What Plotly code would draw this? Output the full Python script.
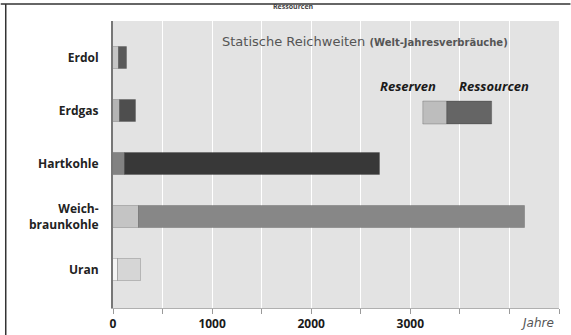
import plotly.graph_objects as go

# Static reach of energy resources (years of world annual consumption)
categories = ["Erdol", "Erdgas", "Hartkohle", "Weich-<br>braunkohle", "Uran"]
reserven = [65, 70, 126, 267, 55]            # years covered by reserves
gesamt = [146, 227, 2694, 4154, 287]         # years covered by reserves + resources
ressourcen = [g - r for g, r in zip(gesamt, reserven)]

reserve_colors = ["#c6c6c6", "#b4b4b4", "#828282", "#c4c4c4", "#f4f4f4"]
resource_colors = ["#595959", "#4e4e4e", "#383838", "#878787", "#d6d6d6"]

x_ticks = [0, 500, 1000, 1500, 2000, 2500, 3000, 3500, 4000, 4500]
x_ticktext = ["0", "", "1000", "", "2000", "", "3000", "", "", ""]

fig = go.Figure()
fig.add_trace(go.Bar(
    y=list(range(len(categories))), x=reserven, orientation="h",
    marker=dict(color=reserve_colors, line=dict(color="rgba(0,0,0,0.18)", width=1)),
    width=0.42, name="Reserven", showlegend=False,
))
fig.add_trace(go.Bar(
    y=list(range(len(categories))), x=ressourcen, base=reserven, orientation="h",
    marker=dict(color=resource_colors, line=dict(color="rgba(0,0,0,0.18)", width=1)),
    width=0.42, name="Ressourcen", showlegend=False,
))

L, R, T, B = 112.5, 11.5, 21, 27
W, H = 571, 335
pw, ph = W - L - R, H - T - B

def px(x):
    return (x - L) / pw

def py(y):
    return 1 - (y - T) / ph

shapes = [
    # outer frame: top and left edges
    dict(type="line", xref="paper", yref="paper", x0=px(0), x1=px(W), y0=py(4), y1=py(4),
         line=dict(color="#333333", width=1.5)),
    dict(type="line", xref="paper", yref="paper", x0=px(5), x1=px(5), y0=py(4), y1=py(H),
         line=dict(color="#333333", width=1.5)),
    # legend swatch
    dict(type="rect", xref="paper", yref="paper", x0=px(423), x1=px(447), y0=py(124), y1=py(101),
         fillcolor="#bdbdbd", line=dict(color="rgba(0,0,0,0.2)", width=1)),
    dict(type="rect", xref="paper", yref="paper", x0=px(447), x1=px(492), y0=py(124), y1=py(101),
         fillcolor="#656565", line=dict(color="rgba(0,0,0,0.2)", width=1)),
]

font = "Open Sans"
wide = "DejaVu Sans"
annotations = [
    dict(xref="paper", yref="paper", x=px(220), y=py(41), xanchor="left", yanchor="middle",
         text="Statische Reichweiten <span style='font-size:10px'><b>(Welt-Jahresverbräuche)</b></span>",
         showarrow=False, font=dict(family=wide, size=13, color="#555555")),
    dict(xref="paper", yref="paper", x=px(408), y=py(86), xanchor="center", yanchor="middle",
         text="<b><i>Reserven</i></b>", showarrow=False, font=dict(family=font, size=13, color="#1a1a1a")),
    dict(xref="paper", yref="paper", x=px(494), y=py(86), xanchor="center", yanchor="middle",
         text="<b><i>Ressourcen</i></b>", showarrow=False, font=dict(family=font, size=13, color="#1a1a1a")),
    dict(xref="paper", yref="paper", x=px(538), y=py(323), xanchor="center", yanchor="middle",
         text="<i>Jahre</i>", showarrow=False, font=dict(family=wide, size=12, color="#555555")),
    dict(xref="paper", yref="paper", x=px(293), y=py(0), xanchor="center", yanchor="top",
         text="<b>Ressourcen</b>", showarrow=False, font=dict(family=font, size=7, color="#444444")),
]

fig.update_layout(
    width=W, height=H, margin=dict(l=L, r=R, t=T, b=B),
    paper_bgcolor="white", plot_bgcolor="#e3e3e3",
    barmode="overlay", bargap=0,
    shapes=shapes, annotations=annotations,
    font=dict(family=font, color="#222222"),
)
fig.update_xaxes(
    range=[0, 4500], tickvals=x_ticks, ticktext=x_ticktext,
    showgrid=True, gridcolor="white", gridwidth=1,
    ticks="outside", ticklen=5, tickcolor="#9a9a9a",
    showline=True, linecolor="#b0b0b0", linewidth=1,
    tickfont=dict(family=font, size=12, color="#1a1a1a", weight="bold"),
    zeroline=False, fixedrange=True, automargin=False,
)
fig.update_yaxes(
    range=[4.72, -0.70], tickvals=list(range(len(categories))), ticktext=categories,
    showgrid=False, zeroline=False, showline=True, linecolor="#777777", linewidth=2,
    ticks="", ticklabelstandoff=10,
    tickfont=dict(family=font, size=12, color="#222222", weight="bold"),
    fixedrange=True, automargin=False,
)

fig.write_html("out.html", config={"displayModeBar": False})
